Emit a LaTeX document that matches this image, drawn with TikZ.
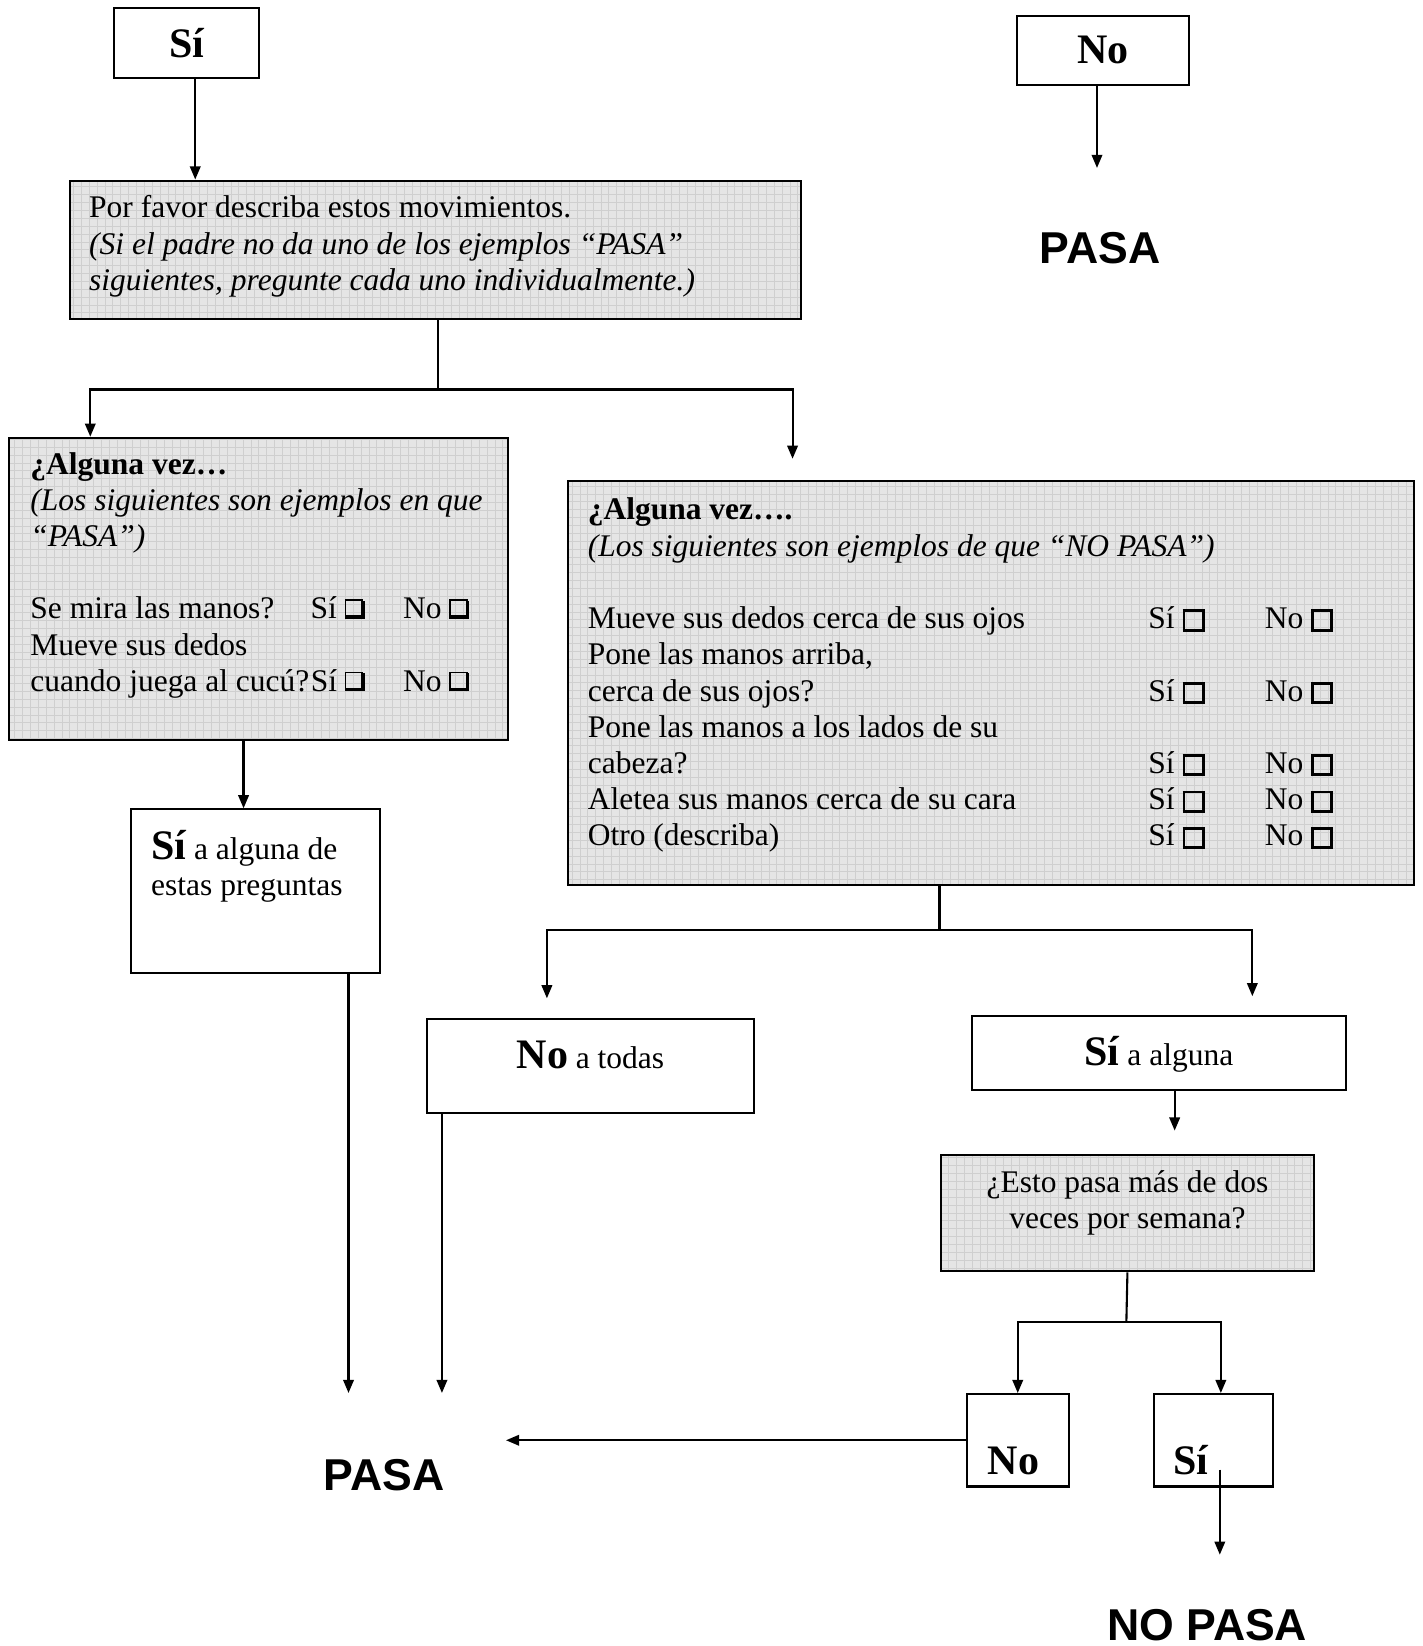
\documentclass[tikz,border=0pt]{standalone}
\usepackage{fontspec}
\setmainfont{Liberation Serif}
\newfontfamily\headfont{Liberation Sans}
\usepackage{tikz}
\usetikzlibrary{arrows.meta}

% check boxes
\newcommand{\shbox}{\makebox[7.6pt][l]{%
	\rlap{\rule{0.45pt}{7.4pt}}%
	\rlap{\rule[6.95pt]{7pt}{0.45pt}}%
	\rlap{\hspace{6.2pt}\rule{1.4pt}{6.9pt}}%
	\rlap{\hspace{0.4pt}\rule{7.2pt}{1.4pt}}}}
\newcommand{\sqbox}{{\setlength{\fboxsep}{0pt}\setlength{\fboxrule}{1.1pt}\fbox{\rule{0pt}{6.2pt}\rule{6.2pt}{0pt}}}}
\newcommand{\bigsi}{{\fontsize{16}{16}\selectfont\bfseries Sí}}
\newcommand{\bigno}{{\fontsize{16}{16}\selectfont\bfseries No}}
% width, height, top space, text
\newcommand{\inbox}[4]{\begin{minipage}[c][#2][t]{#1}\vspace{#3}#4\end{minipage}}

\begin{document}
\begin{tikzpicture}[x=0.4pt,y=-0.4pt,>={Triangle[length=5pt,width=4pt]},thick,
	font=\fontsize{12}{13.8}\selectfont,
	gray box/.style={draw,fill=black!10,anchor=north west,inner ysep=0pt,
		path picture={\draw[black!19,line width=0.3pt,step=3pt]
			(path picture bounding box.south west) grid (path picture bounding box.north east);}},
	white box/.style={draw,fill=white,anchor=north west,inner ysep=0pt},
	top box/.style={draw,minimum height=26.4pt,font=\fontsize{16}{16}\selectfont\bfseries},
	pasa label/.style={font=\headfont\bfseries\fontsize{17}{17}\selectfont}]

	\useasboundingbox (0,0) rectangle (1355,1568);

	\node[top box,minimum width=55.2pt] (siTop) at (178,41) {Sí};
	\node[top box,minimum width=65.6pt] (noTop) at (1051,48) {No};
	\node[pasa label] (pasaTop) at (1048,236) {PASA};

	\node[gray box,inner xsep=7.2pt] (describe) at (66,171) {\inbox{264pt}{52.8pt}{5.8pt}{%
		Por favor describa estos movimientos.\\
		\textit{(Si el padre no da uno de los ejemplos “PASA”}\\
		\textit{siguientes, pregunte cada uno individualmente.)}}};

	\node[gray box,inner xsep=8pt] (alguna1) at (8,416) {\inbox{174pt}{115.2pt}{5.5pt}{%
		\textbf{¿Alguna vez…}\\
		\textit{(Los siguientes son ejemplos en que}\\
		\textit{“PASA”)}\\[13.8pt]
		\makebox[106.8pt][l]{Se mira las manos?}\makebox[35.2pt][l]{Sí \shbox}No \shbox\\
		Mueve sus dedos\\
		\makebox[106.8pt][l]{cuando juega al cucú?}\makebox[35.2pt][l]{Sí \shbox}No \shbox}};

	\node[gray box,inner xsep=7.6pt] (alguna2) at (540,457) {\inbox{307.2pt}{154pt}{6.6pt}{%
		\textbf{¿Alguna vez….}\\
		\textit{(Los siguientes son ejemplos de que “NO PASA”)}\\[13.8pt]
		\makebox[213.6pt][l]{Mueve sus dedos cerca de sus ojos}\makebox[44.4pt][l]{Sí \sqbox}No \sqbox\\
		Pone las manos arriba,\\
		\makebox[213.6pt][l]{cerca de sus ojos?}\makebox[44.4pt][l]{Sí \sqbox}No \sqbox\\
		Pone las manos a los lados de su\\
		\makebox[213.6pt][l]{cabeza?}\makebox[44.4pt][l]{Sí \sqbox}No \sqbox\\
		\makebox[213.6pt][l]{Aletea sus manos cerca de su cara}\makebox[44.4pt][l]{Sí \sqbox}No \sqbox\\
		\makebox[213.6pt][l]{Otro (describa)}\makebox[44.4pt][l]{Sí \sqbox}No \sqbox}};

	\node[white box,inner xsep=7.6pt] (siAlg1) at (124,770) {\inbox{79.6pt}{62.4pt}{8pt}{%
		\bigsi{} a alguna de\\
		estas preguntas}};
	\node[white box,inner xsep=0pt] (noTodas) at (406,970) {\inbox{124.4pt}{35.6pt}{8.4pt}{%
		\centering\bigno{} a todas}};
	\node[white box,inner xsep=0pt] (siAlg2) at (925,967) {\inbox{142.4pt}{28pt}{7.6pt}{%
		\centering\bigsi{} a alguna}};
	\node[gray box,inner xsep=0pt] (semana) at (895,1099) {\inbox{142.4pt}{44.4pt}{5.9pt}{%
		\centering ¿Esto pasa más de dos\\
		veces por semana?}};
	\node[white box,inner xsep=8pt] (noBot) at (920,1327) {\inbox{22.8pt}{35.2pt}{20pt}{\bigno}};
	\node[white box,inner xsep=7.6pt] (siBot) at (1098,1327) {\inbox{30.4pt}{35.2pt}{19.7pt}{\bigsi}};

	\node[pasa label] (pasaBot) at (366,1405) {PASA};
	\node[pasa label] (noPasa) at (1150,1548) {NO PASA};

	\coordinate (noEnd) at (1045,160);
	\coordinate (split1) at (417,371);
	\coordinate (gap1) at (755,437);
	\coordinate (pasa1) at (332,1327);
	\coordinate (pasa2) at (421,1327);
	\coordinate (split2) at (895,886);
	\coordinate (gap2) at (521,951);
	\coordinate (gap3) at (1193,949);
	\coordinate (gap4) at (1119,1077);
	\coordinate (split3) at (1073,1259);
	\coordinate (pasa3) at (482,1370);
	\coordinate (noPasaEnd) at (1162,1481);

	\draw[->] ([xshift=3.2pt]siTop.south) -- ([xshift=3.2pt]siTop.south |- describe.north);
	\draw[->] (noTop.south -| noEnd) -- (noEnd);
	\draw (describe.south -| split1) -- (split1);
	\draw[->] (split1) -| ([xshift=31.2pt]alguna1.north west);
	\draw[->] (split1) -| (gap1);
	\draw[->] ([xshift=-5.8pt]alguna1.south) -- ([xshift=-5.8pt]alguna1.south |- siAlg1.north);
	\draw[->] (siAlg1.south -| pasa1) -- (pasa1);
	\draw[->] (noTodas.south -| pasa2) -- (pasa2);
	\draw (alguna2.south -| split2) -- (split2);
	\draw[->] (split2) -| (gap2);
	\draw[->] (split2) -| (gap3);
	\draw[->] (siAlg2.south -| gap4) -- (gap4);
	\draw (semana.south) -- (split3);
	\draw[->] (split3) -| (noBot.north);
	\draw[->] (split3) -| ([xshift=2.8pt]siBot.north);
	\draw[->] (noBot.west) -- (noBot.west -| pasa3);
	\draw[->] ([yshift=6.8pt]noPasaEnd |- siBot.south) -- (noPasaEnd);
\end{tikzpicture}
\end{document}
